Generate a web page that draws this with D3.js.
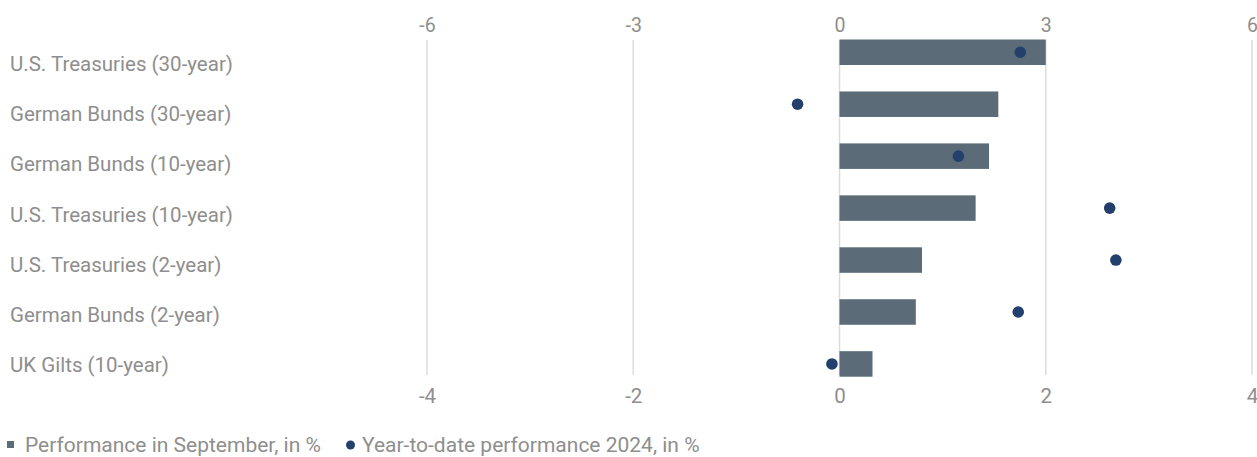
<!DOCTYPE html>
<html>
<head>
<meta charset="utf-8">
<script src="https://cdn.jsdelivr.net/npm/d3@7/dist/d3.min.js"></script>
<style>
  html, body { margin: 0; padding: 0; background: #ffffff; }
  svg { display: block; }
  text { font-family: Roboto, "Noto Sans", sans-serif; fill: #8e8e8e; }
</style>
</head>
<body>
<div id="chart"></div>
<script>
// Bond categories, top to bottom
const categories = [
  "U.S. Treasuries (30-year)",
  "German Bunds (30-year)",
  "German Bunds (10-year)",
  "U.S. Treasuries (10-year)",
  "U.S. Treasuries (2-year)",
  "German Bunds (2-year)",
  "UK Gilts (10-year)"
];
// Performance in September, in % (bars, bottom axis)
const septemberPerf = [2.0, 1.54, 1.45, 1.32, 0.8, 0.74, 0.32];
// Year-to-date performance 2024, in % (dots, top axis)
const ytdPerf = [2.63, -0.61, 1.73, 3.93, 4.02, 2.6, -0.11];
// Axis ticks
const topTicks = [-6, -3, 0, 3, 6];
const bottomTicks = [-4, -2, 0, 2, 4];
const legendLabels = ["Performance in September, in %", "Year-to-date performance 2024, in %"];

const W = 1257, H = 457;
const left = 427, right = 1252;
const plotTop = 39.5, plotBottom = 376.7;

const svg = d3.select("#chart").append("svg")
  .attr("width", W).attr("height", H);

const xBottom = d3.scaleLinear().domain([-4, 4]).range([left, right]);
const xTop = d3.scaleLinear().domain([-6, 6]).range([left, right]);
const y = d3.scaleBand().domain(categories)
  .range([plotTop, plotBottom]).paddingInner(0.509).paddingOuter(0);
// Baselines of the category labels
const yLabel = d3.scalePoint().domain(categories).range([70.7, 372.3]);

const plainFormat = d => String(d);

// Vertical gridlines
svg.append("g").selectAll("line").data(bottomTicks).join("line")
  .attr("x1", d => xBottom(d)).attr("x2", d => xBottom(d))
  .attr("y1", 40).attr("y2", 375)
  .attr("stroke", "#dcdcdc").attr("stroke-width", 1.5);

// Top axis (year-to-date)
const topAxis = d3.axisTop(xTop).tickValues(topTicks).tickFormat(plainFormat).tickSize(0).tickPadding(0);
const gTop = svg.append("g").attr("transform", "translate(0,31.7)").call(topAxis);
gTop.select(".domain").remove();
gTop.selectAll("text").attr("font-size", 19.5).attr("fill", "#8e8e8e")
  .style("font-family", "Roboto, sans-serif").attr("dy", 0);

// Bottom axis (September)
const bottomAxis = d3.axisBottom(xBottom).tickValues(bottomTicks).tickFormat(plainFormat).tickSize(0).tickPadding(0);
const gBottom = svg.append("g").attr("transform", "translate(0,403.3)").call(bottomAxis);
gBottom.select(".domain").remove();
gBottom.selectAll("text").attr("font-size", 20.5).attr("fill", "#8e8e8e")
  .style("font-family", "Roboto, sans-serif").attr("dy", 0);

// Category labels
svg.append("g").selectAll("text").data(categories).join("text")
  .attr("x", 10)
  .attr("y", d => yLabel(d))
  .attr("font-size", 20.5)
  .text(d => d);

// Bars
svg.append("g").selectAll("rect").data(septemberPerf).join("rect")
  .attr("x", d => xBottom(Math.min(0, d)))
  .attr("y", (d, i) => y(categories[i]))
  .attr("width", d => Math.abs(xBottom(d) - xBottom(0)))
  .attr("height", y.bandwidth())
  .attr("fill", "#5b6b77");

// Dots
svg.append("g").selectAll("circle").data(ytdPerf).join("circle")
  .attr("cx", d => xTop(d))
  .attr("cy", (d, i) => y(categories[i]) + y.bandwidth() / 2)
  .attr("r", 5.8)
  .attr("fill", "#233f6b");

// Legend
const lg = svg.append("g");
lg.append("rect").attr("x", 7).attr("y", 441).attr("width", 7).attr("height", 7).attr("fill", "#5b6b77");
lg.append("text").attr("x", 25).attr("y", 452).attr("font-size", 21).text(legendLabels[0]);
lg.append("circle").attr("cx", 350.5).attr("cy", 445).attr("r", 4.5).attr("fill", "#233f6b");
lg.append("text").attr("x", 362).attr("y", 452).attr("font-size", 21).text(legendLabels[1]);
</script>
</body>
</html>
